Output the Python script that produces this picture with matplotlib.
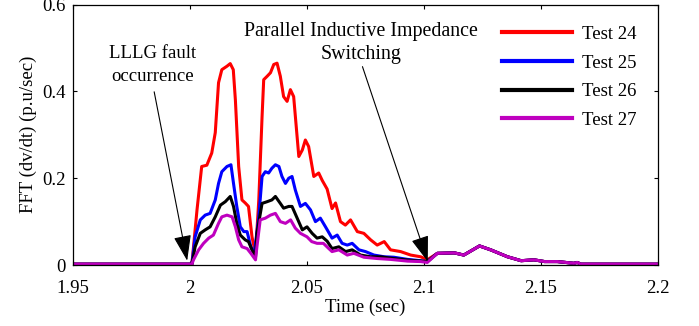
import matplotlib
matplotlib.use("Agg")
import matplotlib.pyplot as plt
import numpy as np

plt.rcParams['font.family'] = ['Liberation Serif', 'DejaVu Serif']

# ---- data ----
t24 = [1.95, 2.0008, 2.003, 2.005, 2.0072, 2.0093, 2.0108, 2.0122, 2.0136, 2.0158, 2.0172, 2.0185,
       2.0194, 2.0208, 2.0222, 2.0236, 2.025, 2.0265, 2.028, 2.0294, 2.0308, 2.0315, 2.033, 2.0344,
       2.0358, 2.0372, 2.0386, 2.04, 2.0415, 2.0429, 2.0443, 2.0465, 2.048, 2.0493, 2.0507, 2.0529,
       2.055, 2.0565, 2.0586, 2.0607, 2.0622, 2.0643, 2.0664, 2.0686, 2.0715, 2.0743, 2.0772, 2.08,
       2.083, 2.0857, 2.09, 2.0943, 2.0986, 2.1014]
y24 = [0.002, 0.002, 0.127, 0.227, 0.23, 0.258, 0.305, 0.42, 0.45, 0.458, 0.464, 0.45,
       0.38, 0.227, 0.15, 0.143, 0.135, 0.065, 0.025, 0.15, 0.342, 0.427, 0.435, 0.443,
       0.462, 0.465, 0.435, 0.388, 0.377, 0.404, 0.388, 0.25, 0.265, 0.288, 0.273, 0.204,
       0.212, 0.195, 0.175, 0.13, 0.143, 0.1, 0.092, 0.104, 0.077, 0.073, 0.058, 0.046,
       0.054, 0.035, 0.031, 0.023, 0.019, 0.012]

t25 = [1.95, 2.0008, 2.0022, 2.0044, 2.0065, 2.0086, 2.0108, 2.0122, 2.0136, 2.0158, 2.0175, 2.0186,
       2.02, 2.0215, 2.023, 2.0244, 2.026, 2.0275, 2.0294, 2.0308, 2.0322, 2.0336, 2.035, 2.0365,
       2.038, 2.0393, 2.0408, 2.0422, 2.0436, 2.045, 2.0472, 2.0493, 2.0515, 2.0536, 2.0557, 2.0579,
       2.0607, 2.0629, 2.065, 2.0672, 2.0693, 2.0722, 2.075, 2.0786, 2.083, 2.0871, 2.093, 2.0986, 2.1014]
y25 = [0.002, 0.002, 0.065, 0.104, 0.115, 0.119, 0.15, 0.188, 0.215, 0.227, 0.231, 0.188,
       0.135, 0.088, 0.077, 0.077, 0.042, 0.027, 0.111, 0.204, 0.215, 0.212, 0.223, 0.231,
       0.227, 0.204, 0.188, 0.2, 0.204, 0.173, 0.135, 0.142, 0.127, 0.1, 0.108, 0.088,
       0.062, 0.069, 0.05, 0.046, 0.05, 0.035, 0.031, 0.023, 0.019, 0.018, 0.013, 0.01, 0.008]

t26 = [1.95, 2.0008, 2.0022, 2.0044, 2.0065, 2.0086, 2.0108, 2.013, 2.0151, 2.0172, 2.0186, 2.02,
       2.0215, 2.0236, 2.025, 2.0265, 2.028, 2.0286, 2.0308, 2.033, 2.035, 2.0365, 2.0386, 2.04,
       2.0422, 2.0436, 2.0458, 2.048, 2.05, 2.0522, 2.0543, 2.0565, 2.0586, 2.0607, 2.0636, 2.0665,
       2.0693, 2.0729, 2.0772, 2.0815, 2.087, 2.094, 2.1014]
y26 = [0.002, 0.002, 0.042, 0.073, 0.081, 0.088, 0.111, 0.138, 0.146, 0.158, 0.135, 0.096,
       0.069, 0.058, 0.054, 0.035, 0.019, 0.073, 0.142, 0.146, 0.15, 0.158, 0.142, 0.131,
       0.135, 0.135, 0.108, 0.081, 0.088, 0.073, 0.062, 0.065, 0.055, 0.038, 0.042, 0.031,
       0.035, 0.023, 0.019, 0.019, 0.015, 0.011, 0.008]

t27 = [1.95, 2.0008, 2.0015, 2.0037, 2.0058, 2.008, 2.01, 2.0122, 2.0136, 2.0158, 2.018, 2.0194,
       2.0208, 2.0222, 2.0244, 2.026, 2.028, 2.0286, 2.03, 2.0322, 2.0344, 2.0365, 2.0386, 2.0408,
       2.043, 2.045, 2.0472, 2.05, 2.052, 2.0543, 2.057, 2.0593, 2.0607, 2.0636, 2.0672, 2.07,
       2.0743, 2.08, 2.0857, 2.093, 2.0986, 2.1014]
y27 = [0.002, 0.002, 0.012, 0.035, 0.05, 0.062, 0.069, 0.096, 0.111, 0.115, 0.111, 0.088,
       0.058, 0.042, 0.038, 0.027, 0.012, 0.042, 0.104, 0.108, 0.115, 0.119, 0.1, 0.096,
       0.104, 0.085, 0.073, 0.065, 0.054, 0.05, 0.05, 0.038, 0.031, 0.035, 0.023, 0.027,
       0.018, 0.015, 0.013, 0.009, 0.008, 0.006]

# common tail after 2.1 s (all tests nearly identical)
t_tail = [2.1014, 2.1057, 2.113, 2.117, 2.1237, 2.1285, 2.1357, 2.1415, 2.147, 2.1515, 2.157,
          2.164, 2.1655, 2.167, 2.2]
y_tail = [0.004, 0.027, 0.028, 0.023, 0.044, 0.035, 0.019, 0.01, 0.012, 0.008, 0.008,
          0.004, 0.006, 0.002, 0.002]

labels = ['Test 24', 'Test 25', 'Test 26', 'Test 27']
colors = ['#ff0000', '#0000ff', '#000000', '#bf00bf']
xticks = [1.95, 2.0, 2.05, 2.1, 2.15, 2.2]
xticklabels = ['1.95', '2', '2.05', '2.1', '2.15', '2.2']
yticks = [0, 0.2, 0.4, 0.6]
yticklabels = ['0', '0.2', '0.4', '0.6']

FS = 13.5

fig = plt.figure(figsize=(6.99, 3.26), dpi=100)
ax = fig.add_axes([0.1044, 0.187, 0.837, 0.799])

series = [(t24, y24), (t25, y25), (t26, y26), (t27, y27)]
for (t, y), lab, c in zip(series, labels, colors):
    tt = list(t) + t_tail[1:]
    yy = list(y) + y_tail[1:]
    ax.plot(tt, yy, color=c, lw=2.2, label=lab, solid_joinstyle='round')

ax.set_xlim(1.95, 2.2)
ax.set_ylim(0, 0.6)
ax.set_xticks(xticks)
ax.set_xticklabels(xticklabels)
ax.set_yticks(yticks)
ax.set_yticklabels(yticklabels)
ax.tick_params(direction='in', length=3, width=0.8, top=True, right=True, labelsize=FS)
ax.tick_params(axis='x', pad=11)
ax.tick_params(axis='y', pad=5)
for s in ax.spines.values():
    s.set_linewidth(0.9)

ax.set_xlabel('Time (sec)', fontsize=FS, labelpad=1)
ax.set_ylabel('FFT (dv/dt) (p.u/sec)', fontsize=FS, labelpad=4)

ap = dict(arrowstyle='-|>,head_length=1.6,head_width=0.55', color='black', lw=0.8,
          shrinkA=0, shrinkB=0, mutation_scale=10)
ax.text(1.9838, 0.46, 'LLLG fault\noccurrence', ha='center', va='center', fontsize=FS,
        linespacing=1.45)
ax.annotate('', xy=(1.9988, 0.01), xytext=(1.9847, 0.399), arrowprops=ap)
ax.text(2.0729, 0.511, 'Parallel Inductive Impedance\nSwitching', ha='center', va='center',
        fontsize=14.3, linespacing=1.3)
ax.annotate('', xy=(2.1016, 0.008), xytext=(2.0737, 0.457), arrowprops=ap)

leg = ax.legend(loc='upper left', bbox_to_anchor=(0.733, 0.918), frameon=False, fontsize=FS,
                handlelength=3.73, handletextpad=0.53, labelspacing=0.61,
                borderaxespad=0, borderpad=0)
for line in leg.get_lines():
    line.set_linewidth(3)

fig.savefig('out.png', dpi=100)
